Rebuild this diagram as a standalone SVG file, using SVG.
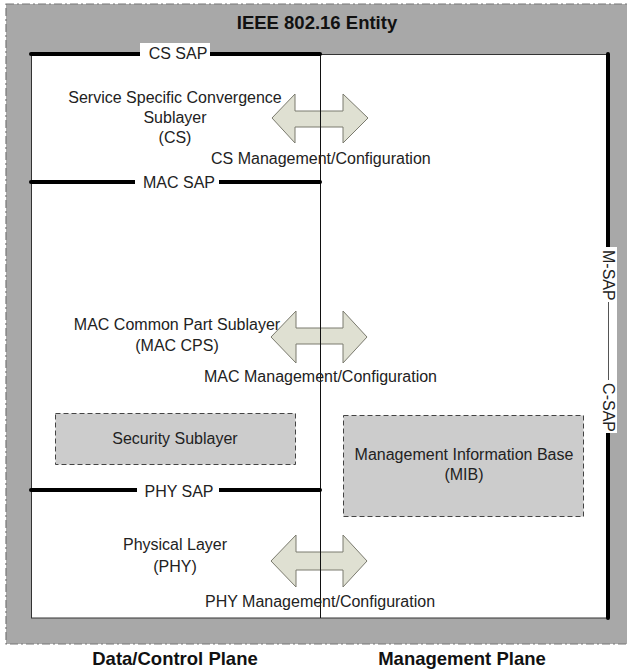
<svg xmlns="http://www.w3.org/2000/svg" width="627" height="669" viewBox="0 0 627 669">
<style>
text{font-family:"Liberation Sans",Arial,sans-serif;fill:#222;}
.t{font-size:16px;}
.b{font-size:18.5px;font-weight:bold;fill:#111;}
.sap{stroke:#000;stroke-width:4;stroke-linecap:round;fill:none;}
.thin{stroke:#111;stroke-width:1;fill:none;}
.arrow{fill:#dfe0d2;stroke:#7a7a6e;stroke-width:1;}
.box{fill:#cccccc;stroke:#444;stroke-width:1;stroke-dasharray:5,3;}
</style>
<rect id="entity" x="6" y="4" width="630" height="640" fill="#a8a8a8" stroke="#777" stroke-width="1.2" stroke-dasharray="8,3,2,3"/>
<text class="b" x="317" y="29" text-anchor="middle">IEEE 802.16 Entity</text>
<rect x="31.5" y="54.5" width="576.5" height="563.5" fill="#fff" stroke="#333" stroke-width="1"/>
<g id="arrows">
<path id="cs-arrow" class="arrow" d="M272,118 L295,94 L295,111 L343,111 L343,94 L368,118 L343,143 L343,127 L295,127 L295,143 Z"/>
<path id="mac-arrow" class="arrow" d="M271,337 L296,311 L296,328 L343,328 L343,311 L367,337 L343,363 L343,344 L296,344 L296,363 Z"/>
<path id="phy-arrow" class="arrow" d="M271,561 L296,535 L296,552 L343,552 L343,535 L367,561 L343,587 L343,570 L296,570 L296,587 Z"/>
</g>
<g id="connectors">
<line class="thin" x1="320.5" y1="54" x2="320.5" y2="618"/>
<line class="sap" x1="31" y1="54" x2="320" y2="54"/>
<line class="sap" x1="31" y1="182" x2="320" y2="182"/>
<line class="sap" x1="31" y1="490" x2="320" y2="490"/>
<line class="sap" x1="608" y1="54" x2="608" y2="618"/>
</g>
<g id="cs-sap">
<rect x="140" y="43" width="70" height="18" fill="#fff"/>
<text class="t" x="178" y="59" text-anchor="middle">CS SAP</text>
</g>
<g id="mac-sap">
<rect x="135" y="173" width="84" height="18" fill="#fff"/>
<text class="t" x="179" y="188" text-anchor="middle">MAC SAP</text>
</g>
<g id="phy-sap">
<rect x="137" y="481" width="82" height="18" fill="#fff"/>
<text class="t" x="179" y="497" text-anchor="middle">PHY SAP</text>
</g>
<g id="m-c-sap">
<rect x="599" y="247" width="18" height="186" fill="#fff"/>
<line x1="608.5" y1="302" x2="608.5" y2="380" stroke="#555" stroke-width="1"/>
<text class="t" transform="translate(603,250) rotate(90)">M-SAP</text>
<text class="t" transform="translate(603,432) rotate(90)" text-anchor="end">C-SAP</text>
</g>
<g id="cs">
<text class="t" x="175" y="103" text-anchor="middle">Service Specific Convergence</text>
<text class="t" x="175" y="123" text-anchor="middle">Sublayer</text>
<text class="t" x="175" y="143" text-anchor="middle">(CS)</text>
</g>
<text class="t" x="211" y="164">CS Management/Configuration</text>
<g id="mac-cps">
<text class="t" x="177" y="330" text-anchor="middle">MAC Common Part Sublayer</text>
<text class="t" x="177" y="351" text-anchor="middle">(MAC CPS)</text>
</g>
<text class="t" x="204" y="382">MAC Management/Configuration</text>
<g id="security">
<rect class="box" x="55.5" y="413.5" width="240" height="51"/>
<text class="t" x="175" y="444" text-anchor="middle">Security Sublayer</text>
</g>
<g id="mib">
<rect class="box" x="343.5" y="415.5" width="240" height="101"/>
<text class="t" x="464" y="460" text-anchor="middle">Management Information Base</text>
<text class="t" x="464" y="480" text-anchor="middle">(MIB)</text>
</g>
<g id="phy">
<text class="t" x="175" y="550" text-anchor="middle">Physical Layer</text>
<text class="t" x="175" y="572" text-anchor="middle">(PHY)</text>
</g>
<text class="t" x="205" y="607">PHY Management/Configuration</text>
<text class="b" x="175" y="665" text-anchor="middle">Data/Control Plane</text>
<text class="b" x="462" y="665" text-anchor="middle">Management Plane</text>
</svg>
